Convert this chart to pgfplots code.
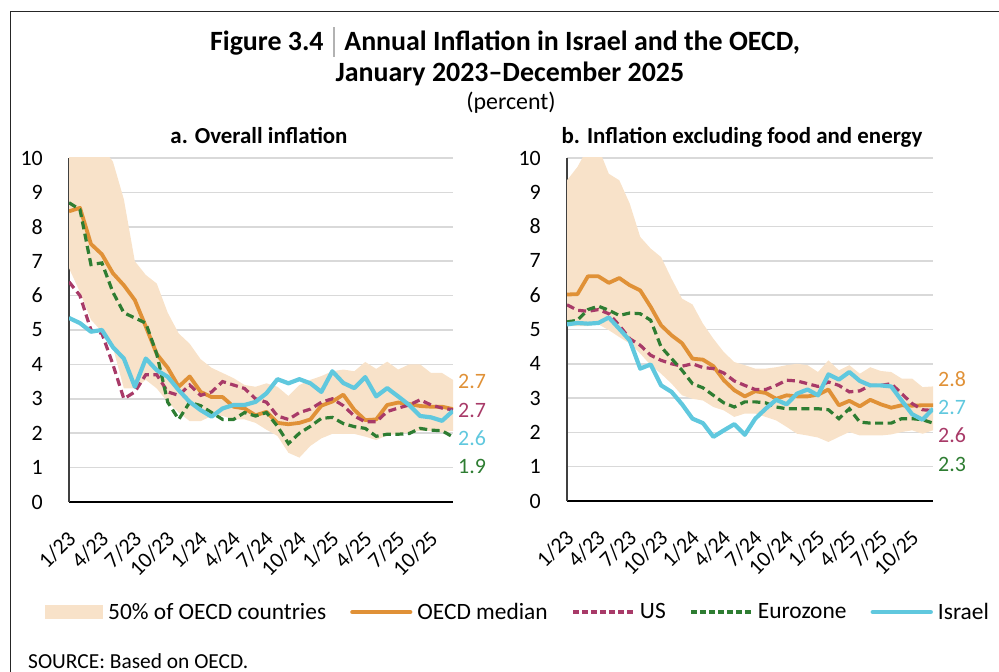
\documentclass[border=0pt]{standalone}
\usepackage{pgfplots}
\pgfplotsset{compat=1.18}
\usepackage{pgfplotstable}
\usepgfplotslibrary{fillbetween}
\usepackage{fontspec}
\setmainfont{Carlito}

\definecolor{cOr}{RGB}{224,145,55}
\definecolor{cPu}{RGB}{168,58,104}
\definecolor{cGr}{RGB}{46,125,50}
\definecolor{cBl}{RGB}{96,200,222}
\definecolor{cBand}{RGB}{248,226,201}
\definecolor{cGrid}{RGB}{217,217,217}

% panel a: overall inflation
\pgfplotstableread{
m up lo med us ez il
0 11.0 6.8 8.45 6.4 8.7 5.35
1 11.0 6.1 8.55 6.0 8.5 5.2
2 10.8 5.3 7.5 5.0 6.9 4.95
3 10.3 4.95 7.2 4.9 6.95 5.0
4 9.9 4.5 6.65 4.0 6.1 4.5
5 8.8 3.3 6.3 3.0 5.5 4.17
6 7.0 3.3 5.87 3.2 5.35 3.35
7 6.6 3.55 5.1 3.7 5.2 4.17
8 6.35 3.3 4.3 3.7 4.3 3.83
9 5.5 2.9 3.9 3.2 2.9 3.64
10 4.9 2.6 3.35 3.1 2.4 3.25
11 4.6 2.35 3.65 3.4 2.9 2.91
12 4.15 2.35 3.2 3.1 2.8 2.67
13 3.9 2.5 3.05 3.2 2.6 2.48
14 3.75 2.5 3.05 3.5 2.4 2.72
15 3.6 2.4 2.77 3.4 2.4 2.82
16 3.4 2.4 2.72 3.3 2.6 2.82
17 3.35 2.3 2.52 3.0 2.5 2.91
18 3.45 2.1 2.62 2.9 2.6 3.16
19 3.35 1.92 2.3 2.5 2.2 3.57
20 3.08 1.43 2.26 2.4 1.7 3.45
21 3.4 1.29 2.3 2.6 2.0 3.57
22 3.55 1.63 2.4 2.7 2.2 3.45
23 3.66 1.85 2.8 2.9 2.43 3.2
24 3.8 1.98 2.92 3.0 2.46 3.8
25 3.85 1.98 3.12 2.8 2.28 3.46
26 3.8 1.98 2.68 2.5 2.19 3.31
27 4.07 1.9 2.38 2.33 2.14 3.63
28 3.87 1.8 2.4 2.33 1.91 3.07
29 4.08 1.94 2.82 2.63 1.97 3.31
30 3.85 1.98 2.89 2.73 1.97 3.07
31 4.0 2.02 2.85 2.82 1.99 2.82
32 4.0 2.07 2.79 2.97 2.14 2.5
33 3.75 2.07 2.77 2.82 2.09 2.46
34 3.75 2.02 2.77 2.73 2.07 2.36
35 3.55 2.07 2.7 2.68 1.89 2.65
}\tA

% panel b: excluding food and energy
\pgfplotstableread{
m up lo med us ez il
0 9.35 5.1 6.02 5.72 5.22 5.15
1 9.74 5.1 6.03 5.56 5.27 5.19
2 10.3 5.1 6.55 5.53 5.58 5.17
3 10.3 5.15 6.55 5.58 5.68 5.19
4 9.54 4.98 6.36 5.46 5.56 5.35
5 9.35 4.78 6.5 5.12 5.41 5.02
6 8.67 4.59 6.29 4.73 5.48 4.68
7 7.7 4.3 6.14 4.54 5.46 3.86
8 7.36 3.96 5.66 4.25 5.27 3.98
9 7.11 3.71 5.12 4.1 4.49 3.37
10 6.48 3.42 4.83 4.0 4.15 3.18
11 5.9 3.08 4.6 3.93 3.81 2.82
12 5.73 2.98 4.15 4.0 3.42 2.4
13 5.17 2.93 4.12 3.89 3.3 2.27
14 4.73 2.74 3.93 3.86 3.08 1.87
15 4.34 2.64 3.52 3.73 2.86 2.06
16 4.05 2.45 3.23 3.5 2.74 2.24
17 3.96 2.55 3.05 3.37 2.89 1.93
18 3.86 2.55 3.2 3.25 2.89 2.4
19 3.86 2.45 3.15 3.25 2.86 2.69
20 3.9 2.35 2.98 3.37 2.74 2.95
21 3.96 2.16 3.08 3.52 2.69 2.82
22 4.0 1.96 3.05 3.5 2.69 3.13
23 3.96 1.91 3.05 3.42 2.69 3.25
24 3.76 1.85 3.1 3.34 2.69 3.08
25 4.1 1.72 3.25 3.47 2.66 3.69
26 3.81 1.87 2.79 3.37 2.4 3.54
27 3.96 2.01 2.92 3.18 2.69 3.76
28 3.71 1.91 2.76 3.21 2.3 3.5
29 3.9 1.91 2.95 3.37 2.27 3.37
30 3.79 1.91 2.82 3.37 2.27 3.37
31 3.76 1.94 2.72 3.42 2.27 3.34
32 3.57 2.01 2.79 3.13 2.4 2.93
33 3.57 2.06 2.78 2.84 2.4 2.53
34 3.32 1.96 2.79 2.66 2.37 2.37
35 3.34 2.06 2.79 2.64 2.27 2.69
}\tB

\pgfplotsset{
  panel/.style={
    scale only axis,
    xmin=0, xmax=35, ymin=0, ymax=10,
    axis x line*=bottom, axis y line*=left,
    x axis line style={-, black, line width=1.4bp},
    y axis line style={-, black!75, line width=1.4bp},
    ytick={0,...,10},
    xtick={0,3,...,33},
    xticklabels={1/23,4/23,7/23,10/23,1/24,4/24,7/24,10/24,1/25,4/25,7/25,10/25},
    major tick length=0pt,
    ymajorgrids,
    major grid style={draw=cGrid, line width=1.5bp},
    /pgf/number format/assume math mode=true,
    yticklabel style={font=\fontsize{22}{22}\selectfont, anchor=east, inner sep=0pt, xshift=-26bp},
    xticklabel style={font=\fontsize{22}{22}\selectfont, inner sep=0pt, xshift=3bp, yshift=-33bp, rotate=45, anchor=east},
  },
  med/.style={cOr, line width=3.8bp, line join=round},
  us/.style={cPu, line width=3.2bp, dash pattern=on 8bp off 4.5bp},
  ez/.style={cGr, line width=3.2bp, dash pattern=on 8bp off 4.5bp},
  il/.style={cBl, line width=4.2bp, line join=round},
}

\begin{document}
\begin{tikzpicture}[x=1bp,y=1bp]
% titles
\node[anchor=base, font=\bfseries\fontsize{28}{28}\selectfont] at (505,621)
  {Figure 3.4\hspace{0.35em}\textcolor{black!30}{\rule[-0.2em]{1.2bp}{1.05em}}\hspace{0.35em}Annual Inflation in Israel and the OECD,};
\node[anchor=base, font=\bfseries\fontsize{28}{28}\selectfont] at (510,590) {January 2023--December 2025};
\node[anchor=base, font=\fontsize{24}{24}\selectfont] at (511,562) {(percent)};
\node[anchor=base, font=\bfseries\fontsize{23}{23}\selectfont] at (259,528) {a. Overall inflation};
\node[anchor=base, font=\bfseries\fontsize{23}{23}\selectfont] at (742,528) {b. Inflation excluding food and energy};

% panel a
\begin{axis}[panel, at={(69bp,170bp)}, anchor=south west, width=384bp, height=344bp,
  legend style={at={(-0.0625,-0.32)}, anchor=west, draw=none, fill=none,
    inner sep=0pt, legend columns=5,
    font=\fontsize{23.5}{23.5}\selectfont,
    nodes={inner sep=0pt},
    /tikz/every odd column/.append style={column sep=5bp},
    /tikz/every even column/.append style={column sep=24bp}},
  ]
  \addplot[name path=upA, draw=none, forget plot] table[x=m, y=up] {\tA};
  \addplot[name path=loA, draw=none, forget plot] table[x=m, y=lo] {\tA};
  \addplot[fill=cBand, draw=none,
    legend image code/.code={\fill[cBand] (0bp,-7bp) rectangle (58bp,7bp);}]
    fill between[of=upA and loA];
  \addlegendentry{50\% of OECD countries}
  \addplot[med, legend image code/.code={\draw[cOr, line width=4.2bp, line cap=round] (0bp,0bp) -- (58bp,0bp);}] table[x=m, y=med] {\tA};
  \addlegendentry{OECD median}
  \addplot[us, legend image code/.code={\draw[cPu, line width=3.2bp, dash pattern=on 6bp off 3bp] (0bp,0bp) -- (60bp,0bp);}] table[x=m, y=us] {\tA};
  \addlegendentry{US}
  \addplot[ez, legend image code/.code={\draw[cGr, line width=3.2bp, dash pattern=on 6bp off 3bp] (0bp,0bp) -- (60bp,0bp);}] table[x=m, y=ez] {\tA};
  \addlegendentry{Eurozone}
  \addplot[il, legend image code/.code={\draw[cBl, line width=4.4bp, line cap=round] (0bp,0bp) -- (58bp,0bp);}] table[x=m, y=il] {\tA};
  \addlegendentry{Israel}
\end{axis}

% panel b
\begin{axis}[panel, at={(567bp,171bp)}, anchor=south west, width=366bp, height=343bp]
  \addplot[name path=upB, draw=none] table[x=m, y=up] {\tB};
  \addplot[name path=loB, draw=none] table[x=m, y=lo] {\tB};
  \addplot[fill=cBand, draw=none] fill between[of=upB and loB];
  \addplot[med] table[x=m, y=med] {\tB};
  \addplot[us] table[x=m, y=us] {\tB};
  \addplot[ez] table[x=m, y=ez] {\tB};
  \addplot[il] table[x=m, y=il] {\tB};
\end{axis}

% end labels
\begin{scope}[every node/.style={anchor=west, inner sep=0pt, font=\fontsize{22}{22}\selectfont}]
\node[text=cOr] at (458,291) {2.7};
\node[text=cPu] at (458,262) {2.7};
\node[text=cBl] at (458,234) {2.6};
\node[text=cGr] at (458,206) {1.9};
\node[text=cOr] at (938,293) {2.8};
\node[text=cBl] at (938,265) {2.7};
\node[text=cPu] at (938,237) {2.6};
\node[text=cGr] at (938,208) {2.3};
\end{scope}

\node[anchor=west, inner sep=0pt, font=\fontsize{21.5}{21.5}\selectfont] at (28,11) {SOURCE: Based on OECD.};

% outer frame (partly outside the page)
\draw[black!85, line width=1.3bp] (10.7,-30) -- (10.7,660.5) -- (1030,660.5);
\pgfresetboundingbox
\useasboundingbox (0,0) rectangle (999,672);
\end{tikzpicture}
\end{document}
